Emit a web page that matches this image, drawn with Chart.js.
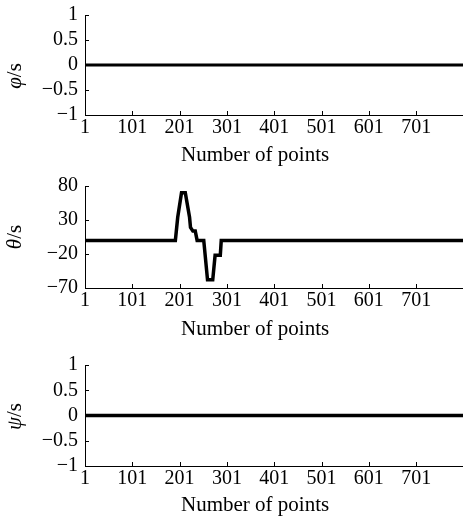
<!DOCTYPE html>
<html>
<head>
<meta charset="utf-8">
<script src="https://cdn.jsdelivr.net/npm/chart.js@4/dist/chart.umd.min.js"></script>
<style>
  html, body { margin: 0; padding: 0; background: #fff; overflow: hidden; }
  #wrap { position: relative; width: 463px; height: 529px; overflow: hidden; }
  canvas { position: absolute; left: 0; }
</style>
</head>
<body>
<div id="wrap">
  <canvas id="phiChart" width="463" height="174" style="top:-4px"></canvas>
  <canvas id="thetaChart" width="463" height="176" style="top:167px"></canvas>
  <canvas id="psiChart" width="463" height="183" style="top:346px"></canvas>
</div>
<script>
// ticks on the shared x axis
const xTicks = [1, 101, 201, 301, 401, 501, 601, 701];
const xMin = 1;
const xMax = 800;
const xTitle = 'Number of points';

// roll angle: flat at zero
const phiX = [1, 800];
const phiY = [0, 0];
const phiTicks = [-1, -0.5, 0, 0.5, 1];

// pitch angle: one bump up then one dip down
const thetaX = [1, 192, 197, 205, 213, 222, 224, 229, 234, 238, 252, 260, 271, 276, 287, 289, 800];
const thetaY = [0, 0, 34, 70, 70, 34, 19, 14, 14, 0, 0, -58, -58, -22, -22, 0, 0];
const thetaTicks = [-70, -20, 30, 80];

// yaw angle: flat at zero
const psiX = [1, 800];
const psiY = [0, 0];
const psiTicks = [-1, -0.5, 0, 0.5, 1];

const serif = '"Liberation Serif", "Times New Roman", serif';

function fmt(v) {
  return v < 0 ? '\u2212' + String(-v) : String(v);
}

// inward tick marks + axis titles (greek part in italic)
const axisDeco = {
  id: 'axisDeco',
  afterDraw(chart, args, opts) {
    const { ctx, chartArea: a } = chart;
    const xs = chart.scales.x, ys = chart.scales.y;
    ctx.save();
    ctx.strokeStyle = '#000';
    ctx.lineWidth = 1;
    ctx.beginPath();
    xs.ticks.forEach(t => {
      if (t.value === xMin) return;
      const px = Math.round(xs.getPixelForValue(t.value)) + 0.5;
      ctx.moveTo(px, a.bottom);
      ctx.lineTo(px, a.bottom - 4);
    });
    ys.ticks.forEach(t => {
      const py = Math.round(ys.getPixelForValue(t.value)) + 0.5;
      ctx.moveTo(a.left, py);
      ctx.lineTo(a.left + 4, py);
    });
    ctx.stroke();

    ctx.fillStyle = '#000';
    ctx.font = '21px ' + serif;
    ctx.textAlign = 'left';
    ctx.textBaseline = 'alphabetic';
    ctx.fillText(xTitle, a.left + 96, a.bottom + opts.xTitleGap);

    // y title, rotated
    const greekFont = 'italic 21px ' + serif;
    const restFont = '21px ' + serif;
    ctx.font = greekFont;
    const w1 = ctx.measureText(opts.greek).width;
    ctx.font = restFont;
    const w2 = ctx.measureText('/s').width;
    ctx.translate(21, (a.top + a.bottom) / 2 + opts.yShift);
    ctx.rotate(-Math.PI / 2);
    const start = -(w1 + w2) / 2;
    ctx.font = greekFont;
    ctx.fillText(opts.greek, start, 0);
    ctx.font = restFont;
    ctx.fillText('/s', start + w1, 0);
    ctx.restore();
  }
};

function makePanel(id, xs, ys, yTicks, lineW, greek, yShift, xAxisH, titleGap) {
  const ctx = document.getElementById(id).getContext('2d');
  return new Chart(ctx, {
    type: 'line',
    data: {
      datasets: [{
        data: xs.map((x, i) => ({ x: x, y: ys[i] })),
        borderColor: '#000',
        borderWidth: lineW,
        pointRadius: 0,
        tension: 0,
        fill: false
      }]
    },
    options: {
      responsive: false,
      animation: false,
      devicePixelRatio: 1,
      layout: { padding: { top: 0, left: 0, right: 0, bottom: 0 } },
      plugins: {
        legend: { display: false },
        tooltip: { enabled: false },
        axisDeco: { greek: greek, yShift: yShift, xTitleGap: titleGap }
      },
      scales: {
        x: {
          type: 'linear',
          min: xMin,
          max: xMax,
          afterBuildTicks: s => { s.ticks = xTicks.map(v => ({ value: v })); },
          afterFit: s => { s.height = xAxisH; },
          grid: { display: false, drawTicks: false },
          border: { display: true, color: '#000', width: 1 },
          ticks: {
            color: '#000',
            font: { family: serif, size: 20 },
            padding: 1,
            maxRotation: 0,
            autoSkip: false,
            callback: v => fmt(v)
          }
        },
        y: {
          type: 'linear',
          min: yTicks[0],
          max: yTicks[yTicks.length - 1],
          afterBuildTicks: s => { s.ticks = yTicks.map(v => ({ value: v })); },
          afterFit: s => { s.width = 85; },
          grid: { display: false, drawTicks: false },
          border: { display: true, color: '#000', width: 1 },
          ticks: {
            color: '#000',
            font: { family: serif, size: 20 },
            padding: 7,
            autoSkip: false,
            callback: v => fmt(v)
          }
        }
      }
    },
    plugins: [axisDeco]
  });
}

makePanel('phiChart', phiX, phiY, phiTicks, 3, '\u03C6', 11, 55, 46);
makePanel('thetaChart', thetaX, thetaY, thetaTicks, 3.5, '\u03B8', 0, 55, 47);
makePanel('psiChart', psiX, psiY, psiTicks, 3.5, '\u03C8', 1, 63, 45);
</script>
</body>
</html>
